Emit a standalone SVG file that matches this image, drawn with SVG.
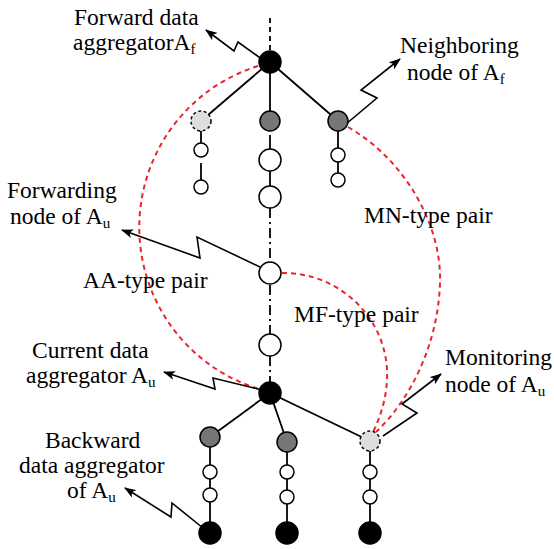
<svg xmlns="http://www.w3.org/2000/svg" width="554" height="549" viewBox="0 0 554 549">
  <style>
    .lbl { font-family: "Liberation Serif", "Times New Roman", serif; font-size: 23.5px; fill: #000; }
    .sub { font-size: 15px; }
    .edge { stroke: #000; stroke-width: 1.8; fill: none; }
    .dashdot { stroke: #000; stroke-width: 1.8; fill: none; stroke-dasharray: 10 4 2 4; }
    .dash { stroke: #000; stroke-width: 1.8; fill: none; stroke-dasharray: 5 4; }
    .pair { stroke: #e8262c; stroke-width: 2; fill: none; stroke-dasharray: 5 4; }
    .bolt { stroke: #000; stroke-width: 1.6; fill: none; marker-end: url(#head); }
    .agg { fill: #000; stroke: #000; stroke-width: 1.5; }
    .nbr { fill: #767676; stroke: #000; stroke-width: 1.5; }
    .mon { fill: #dedede; stroke: #000; stroke-width: 1.5; stroke-dasharray: 3 2.5; }
    .plain { fill: #fff; stroke: #000; stroke-width: 1.5; }
  </style>
  <defs>
    <marker id="head" markerWidth="12" markerHeight="9" refX="11" refY="4.5" orient="auto" markerUnits="userSpaceOnUse">
      <path d="M0,0 L12,4.5 L0,9 L3,4.5 z" fill="#000"/>
    </marker>
  </defs>

  <rect width="554" height="549" fill="#fff"/>

  <!-- tree links and pair curves -->
  <g id="connectors">
    <line class="dash" x1="270" y1="18" x2="270" y2="51"/>
    <line class="edge" x1="270" y1="62" x2="201" y2="121"/>
    <line class="edge" x1="270" y1="62" x2="270" y2="121"/>
    <line class="edge" x1="270" y1="62" x2="338" y2="121"/>

    <line class="edge" x1="201" y1="131" x2="201" y2="143"/>
    <line class="edge" x1="201" y1="163" x2="201" y2="180"/>

    <line class="edge" x1="270" y1="135" x2="270" y2="149"/>
    <line class="edge" x1="270" y1="171" x2="270" y2="186"/>
    <line class="dashdot" x1="270" y1="208" x2="270" y2="262"/>
    <line class="dashdot" x1="270" y1="285" x2="270" y2="334"/>
    <line class="dashdot" x1="270" y1="356" x2="270" y2="382"/>

    <line class="edge" x1="338" y1="131" x2="338" y2="148"/>
    <line class="edge" x1="338" y1="162" x2="338" y2="173"/>

    <line class="edge" x1="270" y1="393" x2="210" y2="437"/>
    <line class="edge" x1="270" y1="393" x2="287" y2="442"/>
    <line class="edge" x1="270" y1="393" x2="370" y2="441"/>

    <line class="edge" x1="210" y1="447" x2="210" y2="522"/>
    <line class="edge" x1="287" y1="452" x2="287" y2="522"/>
    <line class="edge" x1="370" y1="451" x2="370" y2="522"/>

    <path class="pair" d="M258,66 A169,169 0 0 0 259,389"/>
    <path class="pair" d="M348,127 C405,160 442,225 440,283 C438,345 410,400 376,432"/>
    <path class="pair" d="M282,273 C340,272 390,320 387,380 C386,400 380,418 373,432"/>

    <path class="bolt" d="M263,60 L238,42 L234,51 L206,30"/>
    <path class="bolt" d="M346,124 L377,98 L361,90 L400,59"/>
    <path class="bolt" d="M260,267 L197,237 L200,258 L122,230"/>
    <path class="bolt" d="M262,390 L213,378 L215,389 L164,372"/>
    <path class="bolt" d="M383,436 L417,413 L402,404 L441,374"/>
    <path class="bolt" d="M203,528 L172,503 L171,517 L125,488"/>
  </g>

  <!-- forward aggregator and its branches -->
  <g id="node-af"><circle class="agg" cx="270" cy="62" r="11"/></g>
  <g id="node-af-left"><circle class="mon" cx="201" cy="121" r="10"/></g>
  <g id="node-af-left-1"><circle class="plain" cx="201" cy="150" r="7"/></g>
  <g id="node-af-left-2"><circle class="plain" cx="201" cy="187" r="7"/></g>
  <g id="node-af-mid"><circle class="nbr" cx="270" cy="121" r="10"/></g>
  <g id="node-chain-1"><circle class="plain" cx="270" cy="160" r="11"/></g>
  <g id="node-chain-2"><circle class="plain" cx="270" cy="197" r="11"/></g>
  <g id="node-af-right"><circle class="nbr" cx="338" cy="121" r="10"/></g>
  <g id="node-af-right-1"><circle class="plain" cx="338" cy="155" r="7"/></g>
  <g id="node-af-right-2"><circle class="plain" cx="338" cy="180" r="7"/></g>

  <!-- forwarding nodes on the main path -->
  <g id="node-forwarding"><circle class="plain" cx="270" cy="273" r="11"/></g>
  <g id="node-chain-3"><circle class="plain" cx="270" cy="345" r="11"/></g>

  <!-- current aggregator and its branches -->
  <g id="node-au"><circle class="agg" cx="270" cy="393" r="11"/></g>
  <g id="node-au-left"><circle class="nbr" cx="210" cy="437" r="10"/></g>
  <g id="node-au-left-1"><circle class="plain" cx="210" cy="472" r="7"/></g>
  <g id="node-au-left-2"><circle class="plain" cx="210" cy="495" r="7"/></g>
  <g id="node-au-left-agg"><circle class="agg" cx="210" cy="533" r="11"/></g>
  <g id="node-au-mid"><circle class="nbr" cx="287" cy="442" r="10"/></g>
  <g id="node-au-mid-1"><circle class="plain" cx="287" cy="472" r="7"/></g>
  <g id="node-au-mid-2"><circle class="plain" cx="287" cy="497" r="7"/></g>
  <g id="node-au-mid-agg"><circle class="agg" cx="287" cy="533" r="11"/></g>
  <g id="node-monitoring"><circle class="mon" cx="370" cy="441" r="10"/></g>
  <g id="node-au-right-1"><circle class="plain" cx="370" cy="472" r="7"/></g>
  <g id="node-au-right-2"><circle class="plain" cx="370" cy="497" r="7"/></g>
  <g id="node-au-right-agg"><circle class="agg" cx="370" cy="533" r="11"/></g>

  <!-- labels -->
  <g id="labels">
    <text class="lbl" x="74" y="25">Forward data</text>
    <text class="lbl" x="73" y="50">aggregatorA<tspan class="sub" dy="4">f</tspan></text>
    <text class="lbl" x="400" y="53">Neighboring</text>
    <text class="lbl" x="407" y="80">node of A<tspan class="sub" dy="4">f</tspan></text>
    <text class="lbl" x="7" y="198">Forwarding</text>
    <text class="lbl" x="10" y="224">node of A<tspan class="sub" dy="4">u</tspan></text>
    <text class="lbl" x="83" y="288">AA-type pair</text>
    <text class="lbl" x="364" y="223">MN-type pair</text>
    <text class="lbl" x="294" y="322">MF-type pair</text>
    <text class="lbl" x="32" y="358">Current data</text>
    <text class="lbl" x="26" y="383">aggregator A<tspan class="sub" dy="4">u</tspan></text>
    <text class="lbl" x="445" y="365">Monitoring</text>
    <text class="lbl" x="445" y="392">node of A<tspan class="sub" dy="4">u</tspan></text>
    <text class="lbl" x="45" y="448">Backward</text>
    <text class="lbl" x="19" y="473">data aggregator</text>
    <text class="lbl" x="67" y="498">of A<tspan class="sub" dy="4">u</tspan></text>
  </g>
</svg>
